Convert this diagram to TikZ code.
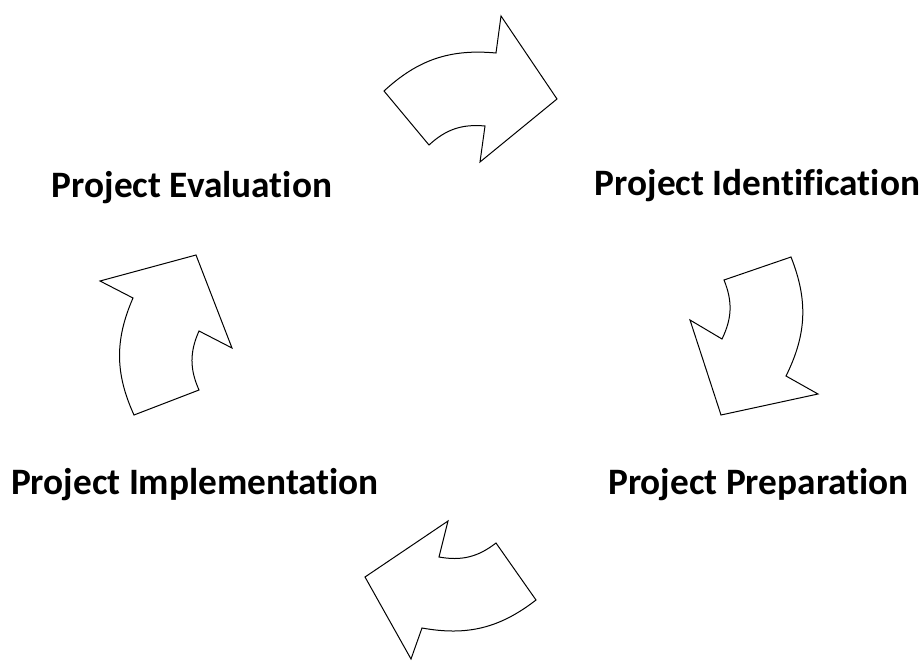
\documentclass[tikz,border=0pt]{standalone}
\usepackage{fontspec}
\setmainfont[Ligatures={NoCommon}]{Carlito}
\tikzset{
  arrowshape/.style={draw=black, line width=1pt, fill=white, line join=miter},
  label/.style={font=\bfseries\fontsize{37.3}{44}\selectfont, anchor=base, inner sep=0pt}
}
\begin{document}
\begin{tikzpicture}[x=1pt, y=-1pt]
\useasboundingbox (0,0) rectangle (923,661);
% top arrow
\draw[arrowshape] (384,91) to[bend left=24] (496,53) -- (501,16) -- (557,99) -- (480,162) -- (485,126) to[bend right=24] (429,145) -- cycle;
% right arrow
\draw[arrowshape] (724,280) -- (791,257) to[bend left=24] (786,376) -- (818,394) -- (721,415) -- (690,320) -- (722,339) to[bend right=24] cycle;
% bottom arrow
\draw[arrowshape] (496,543) -- (536,600) to[bend left=24] (422,628) -- (411,659) -- (365,577) -- (448,521) -- (439,557) to[bend right=24] cycle;
% left arrow
\draw[arrowshape] (134,415) -- (199,390) to[bend left=24] (199,331) -- (232,348) -- (196,255) -- (100,281) -- (133,298) to[bend right=24] cycle;
% labels
\node[label] (eval) at (192,197) {Project Evaluation};
\node[label] (ident) at (757.5,195) {Project Identification};
\node[label] (impl) at (195,494) {Project Implementation};
\node[label] (prep) at (758.5,494) {Project Preparation};
\end{tikzpicture}
\end{document}
